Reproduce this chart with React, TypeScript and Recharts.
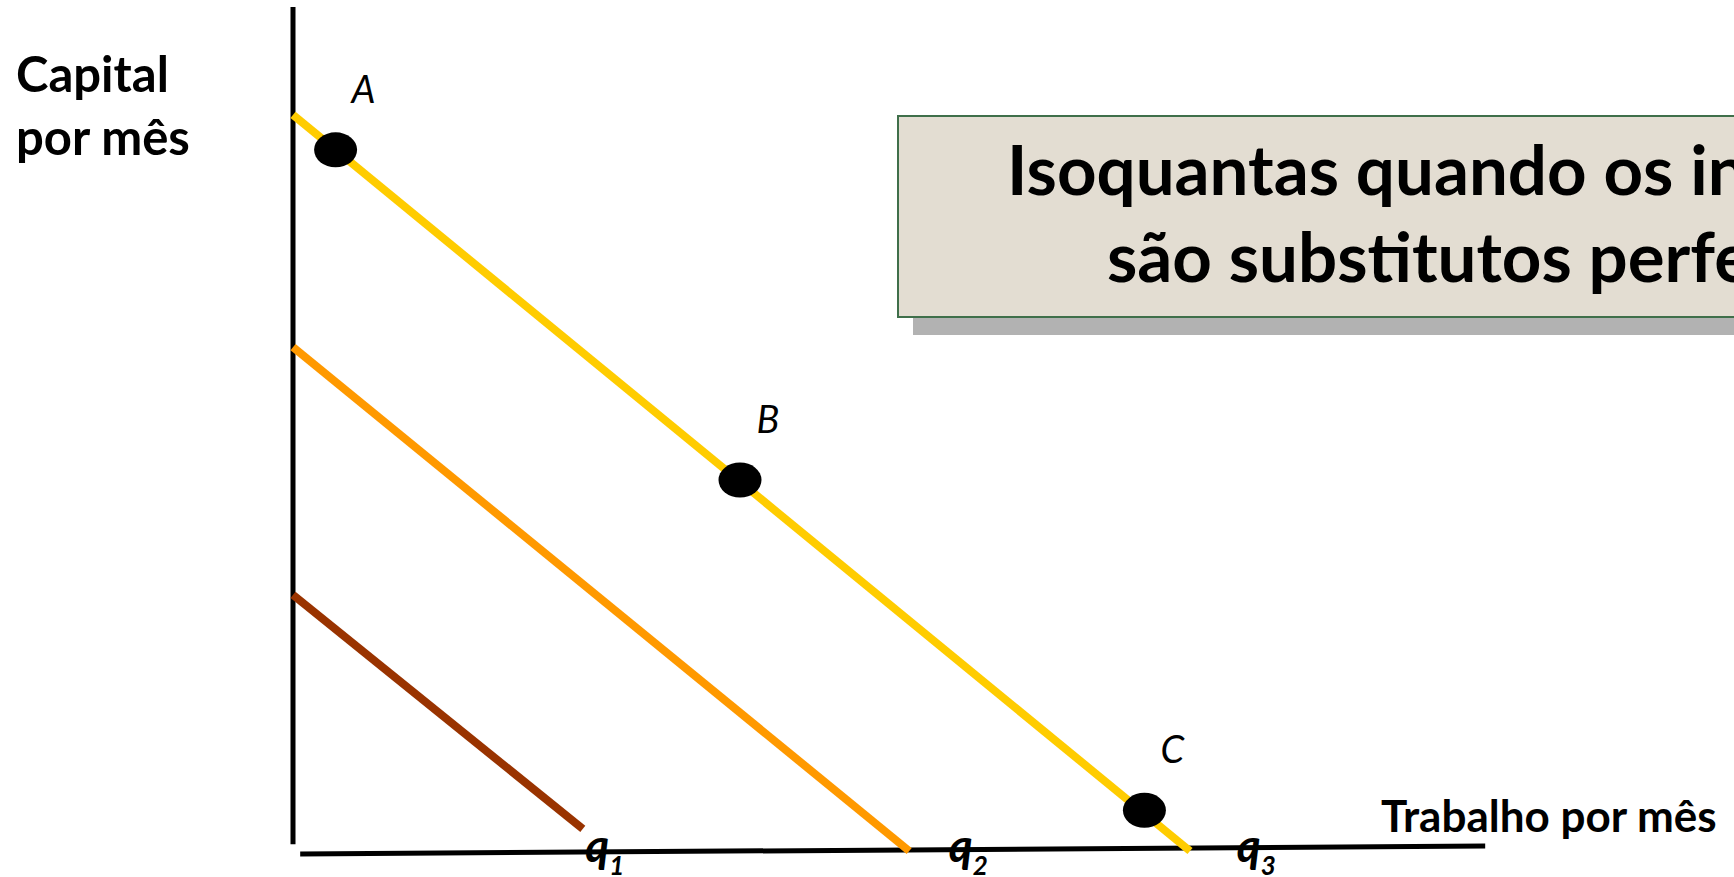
import React from 'react';
import { ComposedChart, Line, Scatter, XAxis, YAxis, ReferenceLine } from 'recharts';

// Isoquants (labour per month on x, capital per month on y)
const q1Line = [{ x: 0, y: 5.22 }, { x: 4.83, y: 0.45 }];
const q2Line = [{ x: 0, y: 10.27 }, { x: 10.27, y: 0 }];
const q3Line = [{ x: 0, y: 15 }, { x: 14.95, y: 0 }];

// Points A, B, C on q3
const pointNames = ['A', 'B', 'C'];
const pointX = [0.71, 7.45, 14.19];
const pointY = [14.29, 7.56, 0.83];

// Isoquant labels along the labour axis
const qLabelX = [4.87, 10.93, 15.73];
const qLabelSub = ['1', '2', '3'];

// Axes (the horizontal one is very slightly tilted in the original)
const yAxisSeg = [{ x: 0, y: 0.14 }, { x: 0, y: 17.2 }];
const xAxisSeg = [{ x: 0.12, y: -0.06 }, { x: 19.87, y: 0.1 }];

const titleLines = ['Isoquantas quando os insumos', 'são substitutos perfeitos'];
const yLabelLines = ['Capital', 'por mês'];
const xLabel = 'Trabalho por mês';

const points = pointNames.map((n, i) => ({ x: pointX[i], y: pointY[i], name: n }));
const qLabels = qLabelSub.map((s, i) => ({ x: qLabelX[i], y: 0, sub: s }));

const FONT = 'Lato, "Open Sans", sans-serif';

const PointShape = (props: any) => {
  const { cx, cy, payload } = props;
  return (
    <g>
      <ellipse cx={cx} cy={cy} rx={21.5} ry={17.5} fill="#000" />
      <text x={cx + 28} y={cy - 47} textAnchor="middle" fontFamily={FONT} fontStyle="italic" fontSize={38} fill="#000">
        {payload.name}
      </text>
    </g>
  );
};

const QLabelShape = (props: any) => {
  const { cx, cy, payload } = props;
  return (
    <text x={cx} y={cy + 11} fontFamily={FONT} fontStyle="italic" fontWeight="bold" fontSize={46} fill="#000">
      q
      <tspan fontSize={26} dy={13}>{payload.sub}</tspan>
    </text>
  );
};

export default function App() {
  return (
    <div style={{ position: 'absolute', left: 0, top: 0, width: 1734, height: 877, overflow: 'hidden', background: '#fff' }}>
      <ComposedChart width={1734} height={877} margin={{ top: 7, right: 241, bottom: 26, left: 293 }} style={{ overflow: 'visible' }}>
        <XAxis type="number" dataKey="x" domain={[0, 20]} hide />
        <YAxis type="number" dataKey="y" domain={[0, 17.2]} hide />
        <ReferenceLine segment={yAxisSeg} stroke="#000" strokeWidth={5} ifOverflow="visible" />
        <ReferenceLine segment={xAxisSeg} stroke="#000" strokeWidth={5} ifOverflow="visible" />
        <Line data={q1Line} dataKey="y" type="linear" stroke="#993300" strokeWidth={8} dot={false} isAnimationActive={false} />
        <Line data={q2Line} dataKey="y" type="linear" stroke="#FF9900" strokeWidth={8} dot={false} isAnimationActive={false} />
        <Line data={q3Line} dataKey="y" type="linear" stroke="#FFCC00" strokeWidth={8} dot={false} isAnimationActive={false} />
        <Scatter data={points} dataKey="y" shape={PointShape} isAnimationActive={false} />
        <Scatter data={qLabels} dataKey="y" shape={QLabelShape} isAnimationActive={false} />
      </ComposedChart>
      <svg width={1734} height={877} style={{ position: 'absolute', left: 0, top: 0, pointerEvents: 'none' }}>
        <text fontFamily={FONT} fontWeight="bold" fontSize={49} fill="#000">
          <tspan x={16} y={92}>{yLabelLines[0]}</tspan>
          <tspan x={16} y={155}>{yLabelLines[1]}</tspan>
        </text>
        <text x={1381} y={832} fontFamily={FONT} fontWeight="bold" fontSize={44} fill="#000">{xLabel}</text>
        <rect x={913} y={131} width={1200} height={204} fill="#b2b2b2" />
        <rect x={898} y={116} width={1200} height={201} fill="#e3ddd2" stroke="#3f6f4a" strokeWidth={2} />
        <text fontFamily={FONT} fontWeight="bold" fontSize={69} fill="#000">
          <tspan x={1007} y={195}>{titleLines[0]}</tspan>
          <tspan x={1107} y={282}>{titleLines[1]}</tspan>
        </text>
      </svg>
    </div>
  );
}
